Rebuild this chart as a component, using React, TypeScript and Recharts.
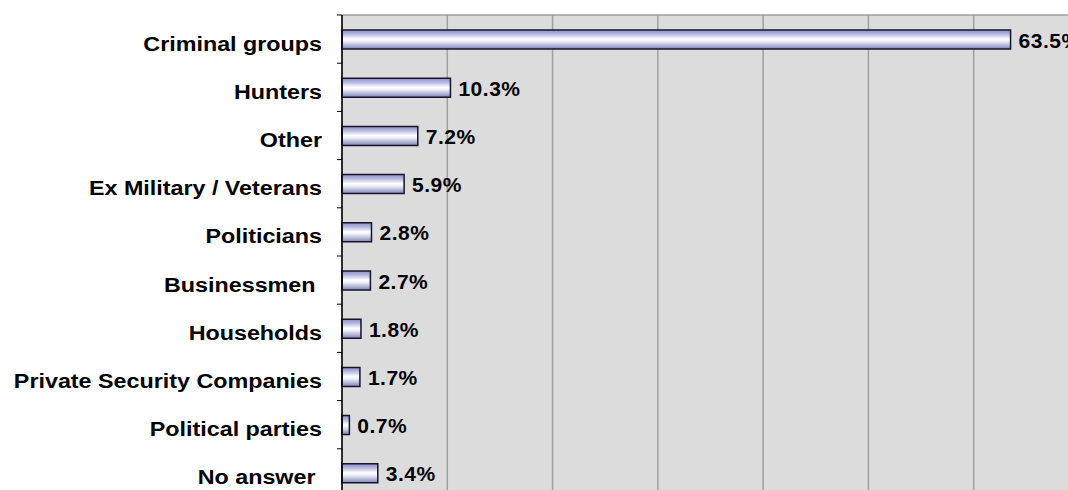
import { Bar, BarChart, CartesianGrid, LabelList, XAxis, YAxis } from "recharts";

const groups = [
  "Criminal groups",
  "Hunters",
  "Other",
  "Ex Military / Veterans",
  "Politicians",
  "Businessmen ",
  "Households",
  "Private Security Companies",
  "Political parties",
  "No answer ",
];

const shares = [63.5, 10.3, 7.2, 5.9, 2.8, 2.7, 1.8, 1.7, 0.7, 3.4];

const xTicks = [0, 10, 20, 30, 40, 50, 60, 70];

const data = groups.map((name, i) => ({ name, value: shares[i] }));

const AXIS_X = 342;
const FONT = "'Liberation Sans', Arial, sans-serif";

function GroupTick(props: any) {
  const { x, y, payload } = props;
  const half = payload.offset ?? 24.1;
  return (
    <g>
      <line x1={AXIS_X - 5} x2={AXIS_X} y1={y - half} y2={y - half} stroke="#000" strokeWidth={1} />
      <text
        transform={`translate(${x},${y + 11.5}) scale(1.11,1)`}
        textAnchor="end"
        fontFamily={FONT}
        fontWeight="bold"
        fontSize={21}
        fill="#000"
        style={{ whiteSpace: "pre" }}
      >
        {payload.value}
      </text>
    </g>
  );
}

function ValueLabel(props: any) {
  const { x, y, width, height, value } = props;
  return (
    <text
      x={x + width + 8}
      y={y + height / 2 + 8}
      fontFamily={FONT}
      fontWeight="bold"
      fontSize={21}
      letterSpacing={0.5}
      fill="#000"
    >
      {`${value}%`}
    </text>
  );
}

export default function App() {
  return (
    <div
      style={{
        position: "fixed",
        left: 0,
        top: 0,
        width: 1068,
        height: 490,
        overflow: "hidden",
        background: "#fff",
      }}
    >
      <BarChart
        width={1100}
        height={520}
        data={data}
        layout="vertical"
        barCategoryGap={0}
        margin={{ top: 15, right: 21, bottom: 23, left: 0 }}
      >
        <defs>
          <linearGradient id="barFill" x1="0" y1="0" x2="0" y2="1">
            <stop offset="0%" stopColor="#8e8ec4" />
            <stop offset="20%" stopColor="#b4b4de" />
            <stop offset="48%" stopColor="#ffffff" />
            <stop offset="60%" stopColor="#eeeef8" />
            <stop offset="100%" stopColor="#8282b8" />
          </linearGradient>
        </defs>
        <CartesianGrid
          fill="#dcdcdc"
          stroke="#a0a0a0"
          strokeWidth={1.5}
          horizontalPoints={[15]}
        />
        <XAxis type="number" domain={[0, 70]} ticks={xTicks} hide height={0} />
        <YAxis
          type="category"
          dataKey="name"
          width={AXIS_X}
          axisLine={{ stroke: "#000", strokeWidth: 1.5 }}
          tickLine={false}
          tickSize={5}
          tickMargin={15}
          tick={<GroupTick />}
          interval={0}
        />
        <Bar
          dataKey="value"
          barSize={19}
          fill="url(#barFill)"
          stroke="#15152e"
          strokeWidth={1.5}
          isAnimationActive={false}
        >
          <LabelList dataKey="value" content={<ValueLabel />} />
        </Bar>
      </BarChart>
    </div>
  );
}
